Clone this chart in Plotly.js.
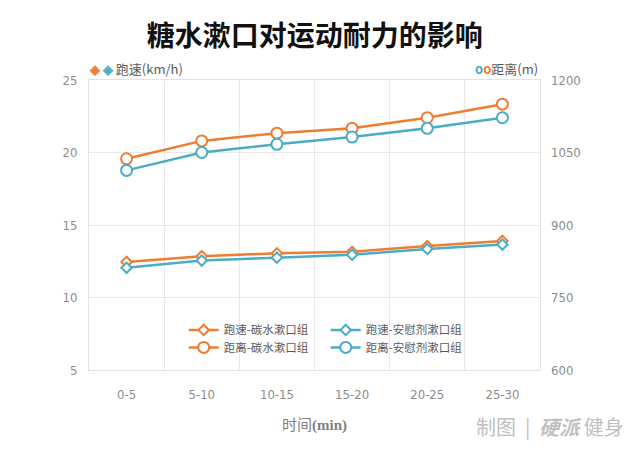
<!DOCTYPE html>
<html>
<head>
<meta charset="utf-8">
<script src="https://cdn.plot.ly/plotly-3.0.1.min.js"></script>
<style>html,body{margin:0;padding:0;background:#fff;}#chart{width:640px;height:453px;}</style>
</head>
<body>
<div id="chart"></div>
<script>
// Data
const categories = ["0-5", "5-10", "10-15", "15-20", "20-25", "25-30"];
const speedCarb = [12.45, 12.85, 13.05, 13.15, 13.55, 13.9];
const speedPlacebo = [12.05, 12.55, 12.75, 12.95, 13.35, 13.65];
const distCarb = [1037, 1074, 1090, 1100, 1122, 1150];
const distPlacebo = [1013, 1050, 1067, 1082, 1100, 1122];
const seriesNames = ["跑速-碳水漱口组", "跑速-安慰剂漱口组", "距离-碳水漱口组", "距离-安慰剂漱口组"];
const leftTicks = [5, 10, 15, 20, 25];
const rightTicks = [600, 750, 900, 1050, 1200];

const ORANGE = "#ED7D31";
const BLUE = "#4BACC6";
const CJK = "'Noto Sans CJK SC', 'Noto Sans', sans-serif";
const NUM = "'Liberation Sans Narrow', 'DejaVu Sans Condensed', sans-serif";

function trace(y, name, color, symbol, size, axis, legend) {
  return {
    x: categories, y: y, name: name, type: "scatter", mode: "lines+markers",
    yaxis: axis, legend: legend,
    line: {color: color, width: 2.5},
    marker: {symbol: symbol, size: size, color: "#ffffff", line: {color: color, width: 2}}
  };
}

const data = [
  trace(speedCarb, seriesNames[0], ORANGE, "diamond", 8, "y", "legend"),
  trace(speedPlacebo, seriesNames[1], BLUE, "diamond", 8, "y", "legend"),
  trace(distCarb, seriesNames[2], ORANGE, "circle", 11, "y2", "legend2"),
  trace(distPlacebo, seriesNames[3], BLUE, "circle", 11, "y2", "legend2")
];

const legendCommon = {
  orientation: "h", xanchor: "left", yanchor: "middle",
  bgcolor: "rgba(0,0,0,0)", itemwidth: 30, entrywidth: 97, tracegroupgap: 0,
  font: {family: CJK, size: 11.5, color: "#595959"}, itemclick: false
};

const layout = {
  width: 640, height: 453,
  margin: {l: 89, r: 100, t: 80, b: 83},
  paper_bgcolor: "#ffffff", plot_bgcolor: "#ffffff",
  title: {text: "<b>糖水漱口对运动耐力的影响</b>", x: 0.492, xanchor: "center", y: 0.92, yanchor: "middle",
          font: {family: CJK, size: 28, color: "#111111"}},
  showlegend: true,
  legend: Object.assign({x: 0.21, y: 0.138}, legendCommon),
  legend2: Object.assign({x: 0.21, y: 0.078}, legendCommon),
  xaxis: {
    type: "category", range: [-0.5, 5.5], tickson: "boundaries", showgrid: true, gridcolor: "#e8e8e8", gridwidth: 1,
    showline: true, linecolor: "#e3e3e3", mirror: true, ticks: "", ticklen: 0, ticklabelstandoff: 12,
    tickfont: {family: NUM, size: 13, color: "#8c8c8c"},
    title: {text: "时间<b style='font-family:Liberation Serif,serif'>(min)</b>", standoff: 18,
            font: {family: CJK, size: 15, color: "#7f7f7f"}}
  },
  yaxis: {
    range: [5, 25], tickvals: leftTicks, showgrid: true, gridcolor: "#e8e8e8",
    showline: true, linecolor: "#e3e3e3", mirror: true, zeroline: false, ticks: "",
    ticklabelstandoff: 8,
    tickfont: {family: NUM, size: 13, color: "#8c8c8c"}
  },
  yaxis2: {
    range: [600, 1200], tickvals: rightTicks, overlaying: "y", side: "right",
    showgrid: false, zeroline: false, showline: false, ticks: "", ticklabelstandoff: 10,
    tickfont: {family: NUM, size: 13, color: "#8c8c8c"}
  },
  annotations: [
    {xref: "paper", yref: "paper", x: -0.005, y: 1.0, xanchor: "left", yanchor: "bottom", showarrow: false,
     text: "<b><span style='color:" + ORANGE + "'>◈</span> <span style='color:" + BLUE + "'>◈</span></b> 跑速(km/h)",
     font: {family: CJK, size: 13, color: "#595959"}},
    {xref: "paper", yref: "paper", x: 1.0, y: 1.0, xanchor: "right", yanchor: "bottom", showarrow: false,
     text: "<b><span style='color:" + BLUE + "'>o</span><span style='color:" + ORANGE + "'>o</span></b>距离(m)",
     font: {family: CJK, size: 13, color: "#595959"}},
    {xref: "paper", yref: "paper", x: 1.19, y: -0.195, xanchor: "right", yanchor: "middle", showarrow: false,
     text: "制图&nbsp;&nbsp;|&nbsp;&nbsp;<i><b>硬派</b></i>&nbsp;健身",
     font: {family: CJK, size: 20, color: "#c0c0c0"}}
  ]
};

Plotly.newPlot("chart", data, layout, {displayModeBar: false, staticPlot: true});
</script>
</body>
</html>
